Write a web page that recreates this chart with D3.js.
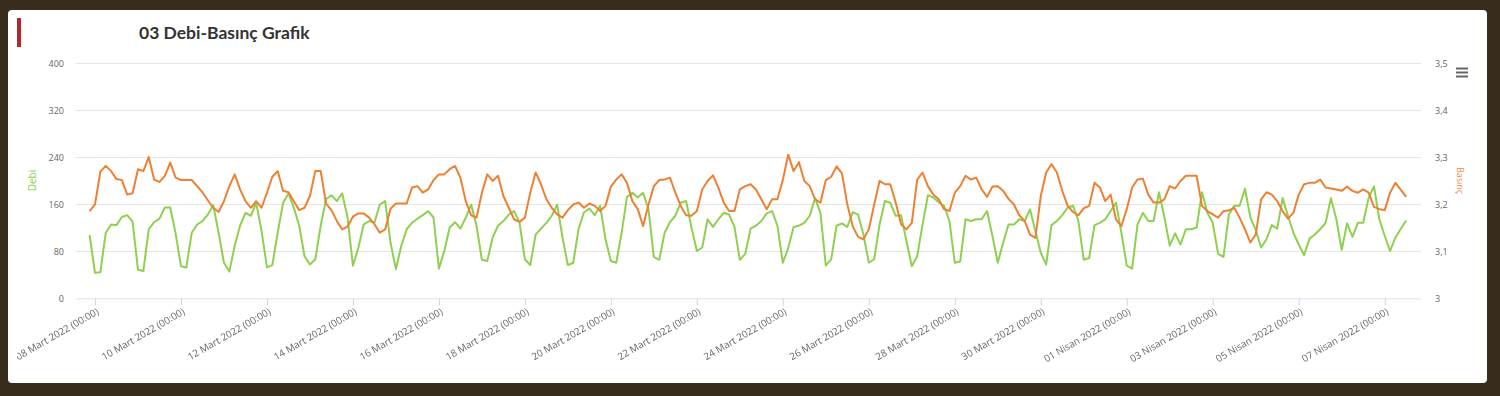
<!DOCTYPE html>
<html><head><meta charset="utf-8">
<script src="https://cdn.jsdelivr.net/npm/d3@7"></script>
<style>
html,body{margin:0;padding:0;background:#382d1c;overflow:hidden;}
svg text{font-family:"Open Sans",sans-serif;}
</style></head><body>
<svg id="chart" width="1500" height="396"></svg>
<script>
// ---- data (3-hour samples, first sample 07 Mart 2022 21:00) ----
const startTime = "2022-03-07 21:00";
const stepHours = 3;
const debi = [
107,43,44,111,125,124,138,141,130,48,
46,117,129,135,154,154,110,54,52,111,
125,131,142,158,111,60,45,89,123,145,
140,162,114,52,56,111,162,178,154,123,
71,57,66,123,168,175,165,178,137,55,
85,125,131,128,159,165,94,49,89,117,
128,135,141,148,
137,50,80,120,129,118,
137,159,123,65,63,103,123,131,142,148,
128,66,56,108,118,128,140,159,103,56,
60,118,146,152,141,157,100,63,60,111,
172,179,171,179,151,70,65,111,129,140,
162,165,120,80,86,134,121,134,145,142,
121,65,75,118,123,131,
144,148,123,60,
85,121,123,128,140,170,145,55,66,123,
127,121,146,142,108,60,66,125,165,162,
140,141,97,54,71,125,175,171,163,157,
131,60,62,134,131,134,134,148,106,60,
94,125,125,134,131,151,114,77,57,124,
131,141,154,157,131,65,68,124,128,134,
148,162,111,55,50,125,145,131,131,180,
138,89,110,91,117,117,120,180,145,128,
75,70,142,157,157,186,137,116,86,100,
124,118,170,140,111,91,73,101,108,117,
128,170,134,82,127,104,128,128,170,190,
134,106,80,103,118,132
];
const basinc = [
3.185,3.199,3.269,3.281,3.270,3.253,3.251,3.220,3.223,3.274,
3.270,3.300,3.252,3.247,3.260,3.288,3.256,3.251,3.251,3.251,
3.238,3.225,3.208,3.192,3.183,3.206,3.238,3.263,3.231,3.206,
3.192,3.206,3.192,3.224,3.258,3.270,3.228,3.225,3.206,3.187,
3.192,3.217,3.270,3.270,3.201,3.187,3.164,3.146,3.152,3.173,
3.180,3.180,3.171,3.157,3.139,3.146,3.190,3.201,3.201,3.201,
3.235,3.238,3.224,3.231,
3.251,3.263,3.263,3.274,3.281,3.256,
3.206,3.176,3.171,3.224,3.263,3.249,3.260,3.217,3.192,3.167,
3.162,3.171,3.224,3.267,3.242,3.210,3.192,3.178,3.171,3.187,
3.199,3.203,3.192,3.201,3.196,3.185,3.196,3.237,3.252,3.263,
3.245,3.206,3.189,3.153,3.199,3.238,3.251,3.252,3.256,3.224,
3.196,3.176,3.175,3.185,3.231,3.249,3.261,3.235,3.203,3.185,
3.185,3.231,3.238,3.242,3.231,3.210,
3.189,3.210,3.210,3.251,
3.305,3.270,3.289,3.249,3.238,3.210,3.203,3.251,3.258,3.280,
3.265,3.199,3.153,3.130,3.125,3.146,3.199,3.249,3.242,3.242,
3.203,3.157,3.146,3.160,3.252,3.267,3.238,3.220,3.210,3.189,
3.185,3.224,3.238,3.260,3.252,3.256,3.231,3.215,3.237,3.238,
3.228,3.211,3.199,3.176,3.164,3.135,3.128,3.217,3.267,3.285,
3.267,3.228,3.196,3.183,3.176,3.191,3.196,3.245,3.235,3.206,
3.220,3.167,3.153,3.189,3.235,3.252,3.254,3.220,3.203,3.203,
3.210,3.238,3.233,3.249,3.260,3.260,3.260,3.196,3.185,3.178,
3.171,3.185,3.186,3.192,3.171,3.146,3.118,3.135,3.210,3.225,
3.220,3.206,3.185,3.169,3.181,3.220,3.242,3.245,3.245,3.252,
3.235,3.233,3.231,3.228,3.237,3.228,3.224,3.231,3.224,3.194,
3.189,3.187,3.224,3.245,3.230,3.215
];
const xTickDates = ["2022-03-08","2022-03-10","2022-03-12","2022-03-14","2022-03-16","2022-03-18","2022-03-20","2022-03-22","2022-03-24","2022-03-26","2022-03-28","2022-03-30","2022-04-01","2022-04-03","2022-04-05","2022-04-07"];
const xTickLabels = ["08 Mart 2022 (00:00)","10 Mart 2022 (00:00)","12 Mart 2022 (00:00)","14 Mart 2022 (00:00)","16 Mart 2022 (00:00)","18 Mart 2022 (00:00)","20 Mart 2022 (00:00)","22 Mart 2022 (00:00)","24 Mart 2022 (00:00)","26 Mart 2022 (00:00)","28 Mart 2022 (00:00)","30 Mart 2022 (00:00)","01 Nisan 2022 (00:00)","03 Nisan 2022 (00:00)","05 Nisan 2022 (00:00)","07 Nisan 2022 (00:00)"];
const leftTicks = [0,80,160,240,320,400];
const rightTicks = [3,3.1,3.2,3.3,3.4,3.5];
const rightTickLabels = ["3","3,1","3,2","3,3","3,4","3,5"];
const xDomain = ["2022-03-07 13:24","2022-04-07 20:16"];
const title = "03 Debi-Basınç Grafik";

// ---- drawing ----
const parseT = d3.timeParse("%Y-%m-%d %H:%M");
const parseD = d3.timeParse("%Y-%m-%d");
const t0 = parseT(startTime);
const times = debi.map((_, i) => d3.timeHour.offset(t0, i * stepHours));

const svg = d3.select("#chart");
const L = 76, R = 1421, T = 63, B = 298;

// card
svg.append("rect").attr("x", 8).attr("y", 10).attr("width", 1479).attr("height", 373)
  .attr("rx", 4).attr("fill", "#fff");
svg.append("rect").attr("x", 17).attr("y", 18).attr("width", 4).attr("height", 29).attr("fill", "#b3282d");
svg.append("text").attr("x", 139).attr("y", 38.5).text(title)
  .style("font-family", "Lato, sans-serif").style("font-size", "17.5px").style("font-weight", "700").attr("fill", "#333");

const defs = svg.append("defs");
defs.append("clipPath").attr("id", "chartclip").append("rect")
  .attr("x", 17).attr("y", 10).attr("width", 1470).attr("height", 373);
const g = svg.append("g").attr("clip-path", "url(#chartclip)");

const x = d3.scaleTime().domain(xDomain.map(parseT)).range([L, R]);
const yL = d3.scaleLinear().domain([0, 400]).range([B, T]);
const yR = d3.scaleLinear().domain([3, 3.5]).range([B, T]);

// grid
g.append("g").selectAll("line").data(leftTicks.slice(1)).join("line")
  .attr("x1", L).attr("x2", R).attr("y1", d => yL(d) + 0.5).attr("y2", d => yL(d) + 0.5)
  .attr("stroke", "#e6e6e6").attr("stroke-width", 1);

// left axis
const axL = d3.axisLeft(yL).tickValues(leftTicks).tickSize(0).tickPadding(0).tickFormat(d3.format("d"));
const gL = g.append("g").attr("transform", `translate(${L - 12},0)`).call(axL);
gL.select(".domain").remove();
gL.selectAll("text").attr("fill", "#666").style("font-size", "9px").style("font-family", "Open Sans").attr("dy", "0.4em");

// right axis
const axR = d3.axisRight(yR).tickValues(rightTicks).tickSize(0).tickPadding(0).tickFormat((d, i) => rightTickLabels[i]);
const gR = g.append("g").attr("transform", `translate(${R + 14},0)`).call(axR);
gR.select(".domain").remove();
gR.selectAll("text").attr("fill", "#666").style("font-size", "9px").style("font-family", "Open Sans").attr("dy", "0.4em");

// axis titles
g.append("text").attr("transform", `translate(35.5,${(T + B) / 2}) rotate(-90)`).attr("text-anchor", "middle")
  .text("Debi").attr("fill", "#90d050").style("font-size", "10px");
g.append("text").attr("transform", `translate(1456.5,${(T + B) / 2}) rotate(90)`).attr("text-anchor", "middle")
  .text("Basınç").attr("fill", "#f08a4b").style("font-size", "9px");

// x axis
const axX = d3.axisBottom(x).tickValues(xTickDates.map(parseD)).tickSize(7).tickSizeOuter(0)
  .tickFormat((d, i) => xTickLabels[i]);
const gX = g.append("g").attr("transform", `translate(0,${B + 0.5})`).call(axX);
gX.select(".domain").attr("stroke", "#ccd6eb").attr("d", `M${L},0H${R}`);
gX.selectAll(".tick line").attr("stroke", "#ccd6eb");
gX.selectAll(".tick text").attr("fill", "#666666").style("font-size", "9.8px").style("font-family", "Open Sans")
  .attr("y", 0).attr("dy", 0).attr("text-anchor", "end")
  .attr("transform", "translate(4,15) rotate(-30)");
gX.style("opacity", 0.999);

// lines
const lineD = d3.line().x((d, i) => x(times[i])).y(d => yL(d));
const lineB = d3.line().x((d, i) => x(times[i])).y(d => yR(d));
g.append("path").datum(debi).attr("d", lineD).attr("fill", "none").attr("stroke", "#8ed04f")
  .attr("stroke-width", 2).attr("stroke-linejoin", "round");
g.append("path").datum(basinc).attr("d", lineB).attr("fill", "none").attr("stroke", "#ee8034")
  .attr("stroke-width", 2).attr("stroke-linejoin", "round");

// menu icon
svg.append("g").selectAll("line").data([0, 1, 2]).join("line")
  .attr("x1", 1456).attr("x2", 1468).attr("y1", d => 68.5 + d * 4).attr("y2", d => 68.5 + d * 4)
  .attr("stroke", "#666").attr("stroke-width", 2);
</script>
</body></html>
